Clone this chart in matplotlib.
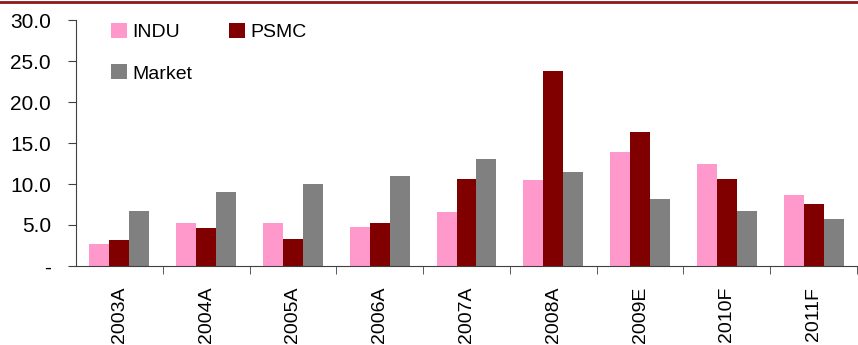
import matplotlib
matplotlib.use("Agg")
import matplotlib.pyplot as plt
import numpy as np
from matplotlib.lines import Line2D

categories = ["2003A", "2004A", "2005A", "2006A", "2007A", "2008A", "2009E", "2010F", "2011F"]
indu = [2.7, 5.3, 5.3, 4.8, 6.6, 10.5, 13.9, 12.5, 8.7]
psmc = [3.2, 4.6, 3.3, 5.3, 10.6, 23.8, 16.4, 10.6, 7.6]
market = [6.7, 9.0, 10.0, 11.0, 13.1, 11.5, 8.2, 6.7, 5.7]
yticks = [0, 5, 10, 15, 20, 25, 30]
ytick_labels = ["-", "5.0", "10.0", "15.0", "20.0", "25.0", "30.0"]

plt.rcParams['font.family'] = ['Liberation Sans', 'DejaVu Sans']

fig = plt.figure(figsize=(8.58, 3.45), dpi=100)
ax = fig.add_axes([76/858, 1 - 266/345, 781/858, 246/345])

x = np.arange(len(categories))
w = 0.23
b1 = ax.bar(x - w, indu, w, color="#FF99CC", label="INDU")
b2 = ax.bar(x, psmc, w, color="#800000", label="PSMC")
b3 = ax.bar(x + w, market, w, color="#808080", label="Market")

ax.set_xlim(-0.5, len(categories) - 0.5)
ax.set_ylim(0, 30)
ax.set_yticks(yticks)
ax.set_yticklabels(ytick_labels, fontsize=15)
ax.set_xticks(x)
ax.set_xticklabels(categories, rotation=90, fontsize=14)
ax.tick_params(axis='x', which='major', length=0, pad=15)
ax.set_xticks(np.arange(len(categories)) + 0.5, minor=True)
ax.tick_params(axis='x', which='minor', length=6, color="#404040")
ax.tick_params(axis='y', length=6, color="#404040", pad=12)

for s in ["top", "right"]:
    ax.spines[s].set_visible(False)
for s in ["left", "bottom"]:
    ax.spines[s].set_color("#404040")

ax.legend([b1, b3, b2], ["INDU", "Market", "PSMC"], loc="upper left",
          bbox_to_anchor=(0.035, 1.02), ncol=2, frameon=False,
          fontsize=14, handlelength=0.8, handleheight=0.8, handletextpad=0.3,
          columnspacing=1.9, labelspacing=1.2, borderaxespad=0)

fig.add_artist(Line2D([0, 1], [1 - 1.5/345, 1 - 1.5/345], color="#8B1A1A", lw=2,
                      transform=fig.transFigure))

fig.savefig("out.png", dpi=100)
